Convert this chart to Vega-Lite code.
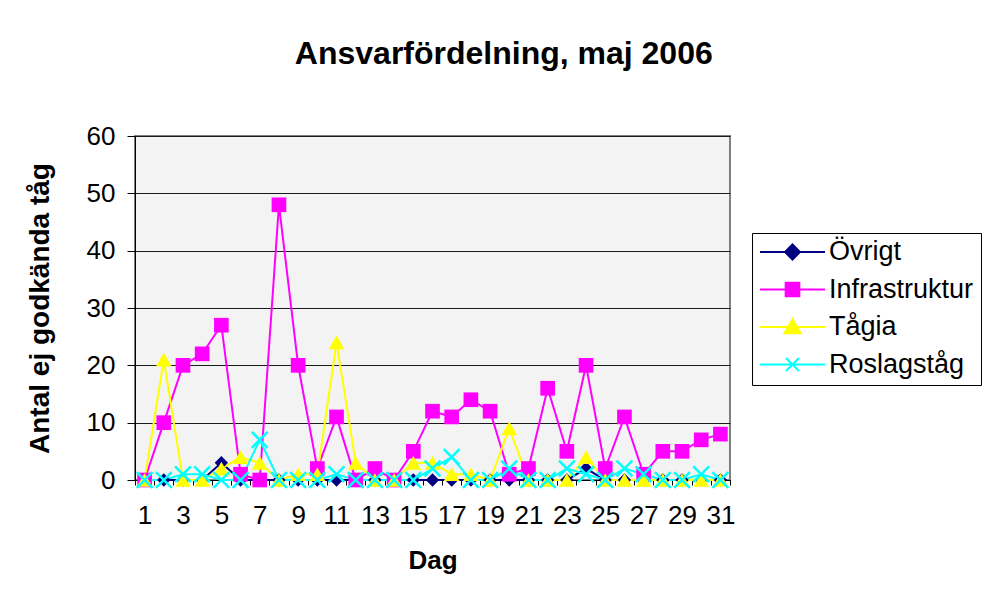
{
  "$schema": "https://vega.github.io/schema/vega-lite/v6.json",
  "autosize": "none",
  "width": 595,
  "height": 344,
  "padding": {"left": 135, "top": 136, "right": 267, "bottom": 125},
  "background": "white",
  "title": {
    "text": "Ansvarfördelning, maj 2006",
    "font": "Liberation Sans",
    "fontSize": 32,
    "fontWeight": "bold",
    "color": "black",
    "anchor": "middle",
    "frame": "bounds",
    "offset": 52
  },
  "config": {
    "view": {"fill": "#f3f3f3", "stroke": "#808080", "strokeWidth": 2},
    "axis": {
      "labelFont": "Liberation Sans",
      "titleFont": "Liberation Sans",
      "labelColor": "black",
      "titleColor": "black",
      "domainColor": "black",
      "tickColor": "black"
    }
  },
  "data": {
    "values": [
      {"dag": 1, "serie": "Övrigt", "antal": 0},
      {"dag": 2, "serie": "Övrigt", "antal": 0},
      {"dag": 3, "serie": "Övrigt", "antal": 0},
      {"dag": 4, "serie": "Övrigt", "antal": 0},
      {"dag": 5, "serie": "Övrigt", "antal": 3},
      {"dag": 6, "serie": "Övrigt", "antal": 0},
      {"dag": 7, "serie": "Övrigt", "antal": 0},
      {"dag": 8, "serie": "Övrigt", "antal": 0},
      {"dag": 9, "serie": "Övrigt", "antal": 0},
      {"dag": 10, "serie": "Övrigt", "antal": 0},
      {"dag": 11, "serie": "Övrigt", "antal": 0},
      {"dag": 12, "serie": "Övrigt", "antal": 0},
      {"dag": 13, "serie": "Övrigt", "antal": 0},
      {"dag": 14, "serie": "Övrigt", "antal": 0},
      {"dag": 15, "serie": "Övrigt", "antal": 0},
      {"dag": 16, "serie": "Övrigt", "antal": 0},
      {"dag": 17, "serie": "Övrigt", "antal": 0},
      {"dag": 18, "serie": "Övrigt", "antal": 0},
      {"dag": 19, "serie": "Övrigt", "antal": 0},
      {"dag": 20, "serie": "Övrigt", "antal": 0},
      {"dag": 21, "serie": "Övrigt", "antal": 0},
      {"dag": 22, "serie": "Övrigt", "antal": 0},
      {"dag": 23, "serie": "Övrigt", "antal": 0},
      {"dag": 24, "serie": "Övrigt", "antal": 2},
      {"dag": 25, "serie": "Övrigt", "antal": 0},
      {"dag": 26, "serie": "Övrigt", "antal": 0},
      {"dag": 27, "serie": "Övrigt", "antal": 0},
      {"dag": 28, "serie": "Övrigt", "antal": 0},
      {"dag": 29, "serie": "Övrigt", "antal": 0},
      {"dag": 30, "serie": "Övrigt", "antal": 0},
      {"dag": 31, "serie": "Övrigt", "antal": 0},
      {"dag": 1, "serie": "Infrastruktur", "antal": 0},
      {"dag": 2, "serie": "Infrastruktur", "antal": 10},
      {"dag": 3, "serie": "Infrastruktur", "antal": 20},
      {"dag": 4, "serie": "Infrastruktur", "antal": 22},
      {"dag": 5, "serie": "Infrastruktur", "antal": 27},
      {"dag": 6, "serie": "Infrastruktur", "antal": 1},
      {"dag": 7, "serie": "Infrastruktur", "antal": 0},
      {"dag": 8, "serie": "Infrastruktur", "antal": 48},
      {"dag": 9, "serie": "Infrastruktur", "antal": 20},
      {"dag": 10, "serie": "Infrastruktur", "antal": 2},
      {"dag": 11, "serie": "Infrastruktur", "antal": 11},
      {"dag": 12, "serie": "Infrastruktur", "antal": 0},
      {"dag": 13, "serie": "Infrastruktur", "antal": 2},
      {"dag": 14, "serie": "Infrastruktur", "antal": 0},
      {"dag": 15, "serie": "Infrastruktur", "antal": 5},
      {"dag": 16, "serie": "Infrastruktur", "antal": 12},
      {"dag": 17, "serie": "Infrastruktur", "antal": 11},
      {"dag": 18, "serie": "Infrastruktur", "antal": 14},
      {"dag": 19, "serie": "Infrastruktur", "antal": 12},
      {"dag": 20, "serie": "Infrastruktur", "antal": 1},
      {"dag": 21, "serie": "Infrastruktur", "antal": 2},
      {"dag": 22, "serie": "Infrastruktur", "antal": 16},
      {"dag": 23, "serie": "Infrastruktur", "antal": 5},
      {"dag": 24, "serie": "Infrastruktur", "antal": 20},
      {"dag": 25, "serie": "Infrastruktur", "antal": 2},
      {"dag": 26, "serie": "Infrastruktur", "antal": 11},
      {"dag": 27, "serie": "Infrastruktur", "antal": 1},
      {"dag": 28, "serie": "Infrastruktur", "antal": 5},
      {"dag": 29, "serie": "Infrastruktur", "antal": 5},
      {"dag": 30, "serie": "Infrastruktur", "antal": 7},
      {"dag": 31, "serie": "Infrastruktur", "antal": 8},
      {"dag": 1, "serie": "Tågia", "antal": 0},
      {"dag": 2, "serie": "Tågia", "antal": 21},
      {"dag": 3, "serie": "Tågia", "antal": 0},
      {"dag": 4, "serie": "Tågia", "antal": 0},
      {"dag": 5, "serie": "Tågia", "antal": 2},
      {"dag": 6, "serie": "Tågia", "antal": 4},
      {"dag": 7, "serie": "Tågia", "antal": 3},
      {"dag": 8, "serie": "Tågia", "antal": 0},
      {"dag": 9, "serie": "Tågia", "antal": 1},
      {"dag": 10, "serie": "Tågia", "antal": 1},
      {"dag": 11, "serie": "Tågia", "antal": 24},
      {"dag": 12, "serie": "Tågia", "antal": 3},
      {"dag": 13, "serie": "Tågia", "antal": 0},
      {"dag": 14, "serie": "Tågia", "antal": 0},
      {"dag": 15, "serie": "Tågia", "antal": 3},
      {"dag": 16, "serie": "Tågia", "antal": 3},
      {"dag": 17, "serie": "Tågia", "antal": 1},
      {"dag": 18, "serie": "Tågia", "antal": 1},
      {"dag": 19, "serie": "Tågia", "antal": 0},
      {"dag": 20, "serie": "Tågia", "antal": 9},
      {"dag": 21, "serie": "Tågia", "antal": 0},
      {"dag": 22, "serie": "Tågia", "antal": 0},
      {"dag": 23, "serie": "Tågia", "antal": 0},
      {"dag": 24, "serie": "Tågia", "antal": 4},
      {"dag": 25, "serie": "Tågia", "antal": 0},
      {"dag": 26, "serie": "Tågia", "antal": 0},
      {"dag": 27, "serie": "Tågia", "antal": 0},
      {"dag": 28, "serie": "Tågia", "antal": 0},
      {"dag": 29, "serie": "Tågia", "antal": 0},
      {"dag": 30, "serie": "Tågia", "antal": 0},
      {"dag": 31, "serie": "Tågia", "antal": 0},
      {"dag": 1, "serie": "Roslagståg", "antal": 0},
      {"dag": 2, "serie": "Roslagståg", "antal": 0},
      {"dag": 3, "serie": "Roslagståg", "antal": 1},
      {"dag": 4, "serie": "Roslagståg", "antal": 1},
      {"dag": 5, "serie": "Roslagståg", "antal": 0},
      {"dag": 6, "serie": "Roslagståg", "antal": 0},
      {"dag": 7, "serie": "Roslagståg", "antal": 7},
      {"dag": 8, "serie": "Roslagståg", "antal": 0},
      {"dag": 9, "serie": "Roslagståg", "antal": 0},
      {"dag": 10, "serie": "Roslagståg", "antal": 0},
      {"dag": 11, "serie": "Roslagståg", "antal": 1},
      {"dag": 12, "serie": "Roslagståg", "antal": 0},
      {"dag": 13, "serie": "Roslagståg", "antal": 0},
      {"dag": 14, "serie": "Roslagståg", "antal": 0},
      {"dag": 15, "serie": "Roslagståg", "antal": 0},
      {"dag": 16, "serie": "Roslagståg", "antal": 2},
      {"dag": 17, "serie": "Roslagståg", "antal": 4},
      {"dag": 18, "serie": "Roslagståg", "antal": 0},
      {"dag": 19, "serie": "Roslagståg", "antal": 0},
      {"dag": 20, "serie": "Roslagståg", "antal": 2},
      {"dag": 21, "serie": "Roslagståg", "antal": 0},
      {"dag": 22, "serie": "Roslagståg", "antal": 0},
      {"dag": 23, "serie": "Roslagståg", "antal": 2},
      {"dag": 24, "serie": "Roslagståg", "antal": 1},
      {"dag": 25, "serie": "Roslagståg", "antal": 0},
      {"dag": 26, "serie": "Roslagståg", "antal": 2},
      {"dag": 27, "serie": "Roslagståg", "antal": 1},
      {"dag": 28, "serie": "Roslagståg", "antal": 0},
      {"dag": 29, "serie": "Roslagståg", "antal": 0},
      {"dag": 30, "serie": "Roslagståg", "antal": 1},
      {"dag": 31, "serie": "Roslagståg", "antal": 0}
    ]
  },
  "encoding": {
    "x": {
      "field": "dag",
      "type": "ordinal",
      "scale": {"type": "band", "paddingInner": 0, "paddingOuter": 0},
      "axis": {
        "title": "Dag",
        "titleFontSize": 26,
        "titleFontWeight": "bold",
        "titlePadding": 19,
        "labelFontSize": 26,
        "labelAngle": 0,
        "labelPadding": 17,
        "labelExpr": "parseInt(datum.label) % 2 == 1 ? datum.label : ''",
        "tickBand": "extent",
        "tickSize": 5,
        "grid": false,
        "domainWidth": 1
      }
    },
    "y": {
      "field": "antal",
      "type": "quantitative",
      "scale": {"domain": [0, 60], "nice": false},
      "axis": {
        "title": "Antal ej godkända tåg",
        "titleFontSize": 28,
        "titleFontWeight": "bold",
        "titlePadding": 32,
        "labelFontSize": 26,
        "labelPadding": 12,
        "labelOverlap": false,
        "tickSize": 8,
        "values": [0, 10, 20, 30, 40, 50, 60],
        "grid": true,
        "gridColor": "#1a1a1a",
        "gridWidth": 1.2
      }
    }
  },
  "layer": [
    {
      "mark": {"type": "line", "strokeWidth": 2},
      "encoding": {
        "color": {
          "field": "serie",
          "type": "nominal",
          "sort": ["Övrigt", "Infrastruktur", "Tågia", "Roslagståg"],
          "scale": {
            "domain": ["Övrigt", "Infrastruktur", "Tågia", "Roslagståg"],
            "range": ["#000080", "#ff00ff", "#ffff00", "#00ffff"]
          },
          "legend": {
            "title": null,
            "orient": "none",
            "legendX": 617,
            "legendY": 97,
            "labelFont": "Liberation Sans",
            "labelFontSize": 27,
            "labelColor": "black",
            "labelOffset": 3,
            "symbolSize": 4225,
            "clipHeight": 24,
            "rowPadding": 10.5,
            "padding": 7,
            "fillColor": "white",
            "strokeColor": "black",
            "cornerRadius": 0,
            "symbolStrokeWidth": 2,
            "encode": {
              "symbols": {
                "update": {
                  "shape": {"signal": "datum.value === 'Övrigt' ? 'M-1,0L1,0M0,-0.23L0.23,0L0,0.23L-0.23,0Z' : datum.value === 'Infrastruktur' ? 'M-1,0L1,0M-0.21,-0.21L0.21,-0.21L0.21,0.21L-0.21,0.21Z' : datum.value === 'Tågia' ? 'M-1,0L1,0M0,-0.24L0.25,0.19L-0.25,0.19Z' : 'M-1,0L1,0M-0.2,-0.2L0.2,0.2M0.2,-0.2L-0.2,0.2'"},
                  "fill": {"signal": "scale('color', datum.value)"},
                  "stroke": {"signal": "scale('color', datum.value)"},
                  "strokeWidth": {"value": 2},
                  "opacity": {"value": 1}
                }
              }
            }
          }
        }
      }
    },
    {
      "transform": [{"filter": "datum.serie === 'Övrigt'"}],
      "mark": {"type": "point", "shape": "diamond", "filled": true, "color": "#000080", "opacity": 1, "size": 180}
    },
    {
      "transform": [{"filter": "datum.serie === 'Infrastruktur'"}],
      "mark": {"type": "point", "shape": "square", "filled": true, "color": "#ff00ff", "opacity": 1, "size": 215}
    },
    {
      "transform": [{"filter": "datum.serie === 'Tågia'"}],
      "mark": {"type": "point", "shape": "triangle-up", "filled": true, "color": "#ffff00", "opacity": 1, "size": 250}
    },
    {
      "transform": [{"filter": "datum.serie === 'Roslagståg'"}],
      "mark": {"type": "point", "shape": "M-1,-1L1,1M1,-1L-1,1", "filled": false, "color": "#00ffff", "strokeWidth": 2.5, "opacity": 1, "size": 250}
    }
  ]
}
